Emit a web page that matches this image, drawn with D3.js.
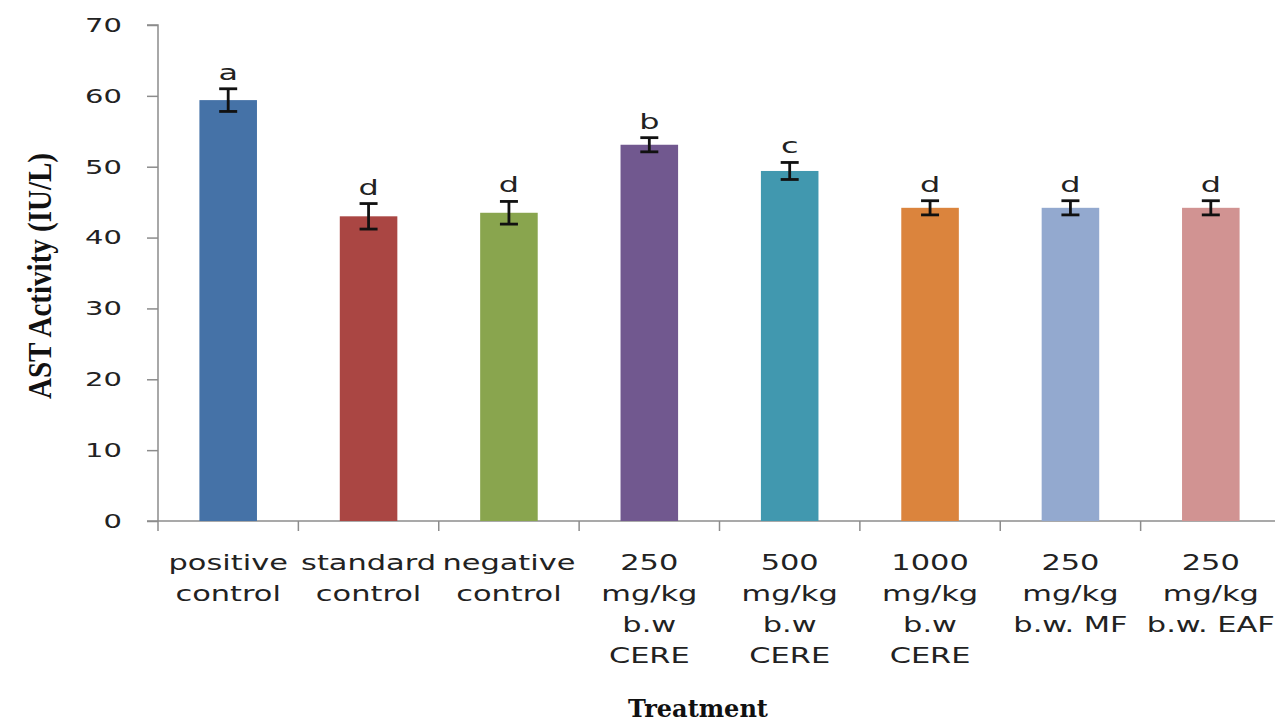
<!DOCTYPE html>
<meta charset="utf-8">
<title>AST Activity</title>
<style>
  body { margin: 0; background: #fff; }
</style>
<body>
<script src="https://cdn.jsdelivr.net/npm/d3@7"></script>
<script>
// data
var groups = [
  ["positive", "control"],
  ["standard", "control"],
  ["negative", "control"],
  ["250", "mg/kg", "b.w", "CERE"],
  ["500", "mg/kg", "b.w", "CERE"],
  ["1000", "mg/kg", "b.w", "CERE"],
  ["250", "mg/kg", "b.w. MF"],
  ["250", "mg/kg", "b.w. EAF"]
];
var values = [59.4, 43.0, 43.5, 53.1, 49.4, 44.2, 44.2, 44.2];
var errors = [1.6, 1.8, 1.6, 1.0, 1.2, 1.0, 1.0, 1.0];
var letters = ["a", "d", "d", "b", "c", "d", "d", "d"];
var colors = ["#4572A7", "#AA4643", "#89A54E", "#71588F", "#4198AF", "#DB843D", "#93A9CF", "#D19392"];
var yTicks = [0, 10, 20, 30, 40, 50, 60, 70];

// the original text is stretched sideways
var stretch = "scale(1.45,1)";

// dimensions
var margin = {top: 25, right: -6, bottom: 203, left: 158},
    W = 1275, H = 724,
    width = W - margin.left - margin.right,
    height = H - margin.top - margin.bottom;

var svg = d3.select("body").append("svg")
    .attr("width", W)
    .attr("height", H);

var g = svg.append("g")
    .attr("transform", "translate(" + margin.left + "," + margin.top + ")");

var x = d3.scaleBand()
    .domain(d3.range(groups.length))
    .range([0, width])
    .paddingInner(0.59)
    .paddingOuter(0.295);

var y = d3.scaleLinear().domain([0, 70]).range([height, 0]);

// y axis
var yAxis = g.append("g")
    .call(d3.axisLeft(y).tickValues(yTicks).tickSize(11));
yAxis.selectAll("line, path").attr("stroke", "#8c8c8c").attr("stroke-width", 1.5);
yAxis.select(".domain").attr("d", "M0," + height + "V0H-11");
yAxis.selectAll(".tick text")
    .attr("x", 0)
    .attr("transform", "translate(-36,0) " + stretch)
    .style("font-family", "DejaVu Sans, sans-serif")
    .style("font-size", "20px")
    .style("fill", "#222");

// x axis with ticks between categories
var step = width / groups.length;
var xAxis = g.append("g").attr("transform", "translate(0," + height + ")");
xAxis.append("line")
    .attr("x1", -11).attr("x2", width)
    .attr("stroke", "#8c8c8c").attr("stroke-width", 1.5);
xAxis.selectAll(".xt")
    .data(d3.range(groups.length + 1))
    .enter().append("line")
    .attr("x1", function(d) { return d * step; })
    .attr("x2", function(d) { return d * step; })
    .attr("y1", 0).attr("y2", 10)
    .attr("stroke", "#8c8c8c").attr("stroke-width", 1.5);

// category labels
var lab = g.selectAll(".xlab")
    .data(groups)
    .enter().append("text")
    .attr("text-anchor", "middle")
    .attr("font-family", "DejaVu Sans, sans-serif")
    .attr("font-size", "21px")
    .attr("fill", "#222")
    .attr("transform", function(d, i) {
        return "translate(" + (x(i) + x.bandwidth() / 2) + "," + (height + 49) + ") " + stretch;
    });
lab.selectAll("tspan")
    .data(function(d) { return d; })
    .enter().append("tspan")
    .attr("x", 0)
    .attr("dy", function(d, i) { return i === 0 ? 0 : 31; })
    .text(function(d) { return d; });

// bars
g.selectAll(".bar")
    .data(values)
    .enter().append("rect")
    .attr("x", function(d, i) { return x(i); })
    .attr("width", x.bandwidth())
    .attr("y", function(d) { return y(d); })
    .attr("height", function(d) { return height - y(d); })
    .attr("fill", function(d, i) { return colors[i]; });

// error bars
var eb = g.selectAll(".err")
    .data(values)
    .enter().append("g")
    .attr("stroke", "#111")
    .attr("stroke-width", 2.8);
eb.append("line")
    .attr("x1", function(d, i) { return x(i) + x.bandwidth() / 2; })
    .attr("x2", function(d, i) { return x(i) + x.bandwidth() / 2; })
    .attr("y1", function(d, i) { return y(d + errors[i]); })
    .attr("y2", function(d, i) { return y(d - errors[i]); });
eb.selectAll(".cap")
    .data(function(d, i) { return [[i, d + errors[i]], [i, d - errors[i]]]; })
    .enter().append("line")
    .attr("x1", function(d) { return x(d[0]) + x.bandwidth() / 2 - 9; })
    .attr("x2", function(d) { return x(d[0]) + x.bandwidth() / 2 + 9; })
    .attr("y1", function(d) { return y(d[1]); })
    .attr("y2", function(d) { return y(d[1]); });

// significance letters
g.selectAll(".letter")
    .data(letters)
    .enter().append("text")
    .attr("transform", function(d, i) {
        return "translate(" + (x(i) + x.bandwidth() / 2) + "," + (y(values[i] + errors[i]) - 9) + ") " + stretch;
    })
    .attr("text-anchor", "middle")
    .attr("font-family", "DejaVu Sans, sans-serif")
    .attr("font-size", "22px")
    .attr("fill", "#222")
    .text(function(d) { return d; });

// axis titles
svg.append("text")
    .attr("transform", "translate(51,276) rotate(-90)")
    .attr("text-anchor", "middle")
    .attr("font-family", "Liberation Serif, serif")
    .attr("font-weight", "bold")
    .attr("font-size", "33px")
    .attr("textLength", 246)
    .attr("lengthAdjust", "spacingAndGlyphs")
    .attr("fill", "#111")
    .text("AST Activity (IU/L)");

svg.append("text")
    .attr("x", 698)
    .attr("y", 717)
    .attr("text-anchor", "middle")
    .attr("font-family", "DejaVu Serif, serif")
    .attr("font-weight", "bold")
    .attr("font-size", "24px")
    .attr("fill", "#111")
    .text("Treatment");
</script>
</body>
